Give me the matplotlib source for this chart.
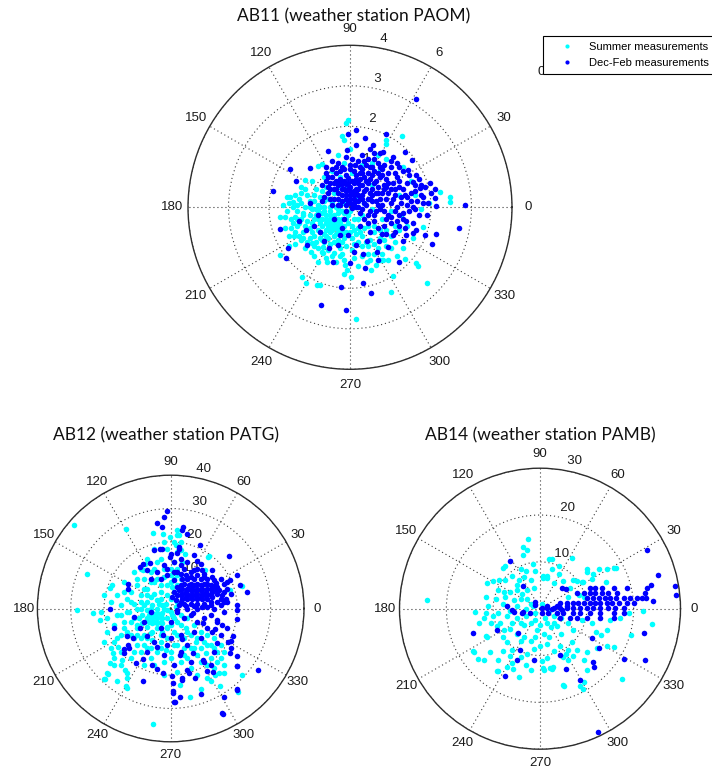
import numpy as np
import matplotlib
matplotlib.use("Agg")
import matplotlib.pyplot as plt
from matplotlib.lines import Line2D

# ---------------- data: wind vector components (east, north) ----------------
# AB11 (weather station PAOM), speed axis 0..4
ab11_summer = [
    (-0.06, 2.16), (-0.10, 2.07), (-0.20, 1.75), (1.28, 1.75), (0.90, 1.67), (-0.29, 1.29),
    (-0.14, 1.67), (0.00, 1.45), (0.70, 1.30), (0.90, 1.57), (-0.70, 1.07), (-0.78, 1.02),
    (1.31, 1.00), (1.50, 0.64), (2.21, 0.37), (2.48, 0.26), (2.48, 0.14), (-1.48, 0.26),
    (-1.41, 0.14), (-1.72, -0.23), (-1.10, 0.67), (-1.20, 0.50),
    (-1.39, -0.72), (-1.15, -0.76), (-1.00, -0.76), (-0.94, -0.88), (-0.97, -1.11), (-1.72, -1.19),
    (-0.66, -0.99), (-0.66, -1.13), (-0.56, -1.35), (-0.39, -1.13), (-0.25, -1.21), (-0.12, -1.42),
    (-0.14, -1.65), (0.02, -1.73), (-0.08, -1.54), (0.20, -1.46), (0.41, -1.34), (0.53, -1.56),
    (0.64, -1.42), (0.82, -1.31), (0.94, -1.30), (1.15, -1.21), (1.35, -1.28), (1.64, -1.38),
    (1.68, -1.46), (1.05, -1.69), (1.90, -1.87), (1.02, -2.10), (-1.19, -1.72), (-1.09, -1.87),
    (-0.82, -1.91), (-0.75, -1.92), (0.16, -2.75), (1.80, -0.48),
    (-0.50, -0.30), (-0.40, -0.30), (-0.60, -0.30), (-0.50, -0.20), (-0.50, -0.40), (-0.40, -0.20),
    (-0.60, -0.20), (-0.40, -0.40), (-0.60, -0.40), (-0.30, -0.30), (-0.70, -0.30), (-0.50, -0.10),
    (-0.50, -0.50), (-0.30, -0.15), (-0.70, -0.15), (-0.30, -0.45), (-0.70, -0.45), (-0.20, -0.30),
    (-0.80, -0.30), (-0.50, 0.00), (-0.50, -0.60), (-0.35, 0.00), (-0.65, 0.00), (-0.20, -0.10),
    (-0.80, -0.10), (-0.20, -0.55), (-0.80, -0.55), (-0.90, -0.30), (-0.10, -0.30), (-0.35, -0.65),
    (-0.65, -0.65),
    (-1.00, -0.20), (-1.10, 0.00), (-1.20, -0.30), (-1.00, -0.50), (-1.30, -0.10), (-1.40, 0.00),
    (-1.55, -0.10), (-1.60, -0.25), (-1.25, 0.20), (-1.05, 0.30), (-0.90, 0.15), (-0.75, 0.25),
    (-0.55, 0.20), (-0.40, 0.35), (-0.85, 0.45), (-0.60, 0.50), (-0.30, 0.50), (-0.15, 0.10),
    (0.00, -0.10), (0.10, -0.30), (0.20, -0.50), (0.00, -0.60), (-0.15, -0.75), (-0.40, -0.85),
    (-0.70, -0.80), (-0.90, -0.70), (-1.15, -0.60), (0.30, -0.20), (0.45, -0.45), (0.60, -0.60),
    (0.75, -0.75), (0.90, -0.55), (0.20, -0.85), (0.45, -0.95), (0.70, -1.00), (0.90, -0.95),
    (1.10, -0.85), (1.20, -0.55), (1.25, -0.20), (1.00, -0.10), (0.80, -0.30), (0.55, -0.05),
    (0.35, 0.10), (0.15, 0.25), (-0.05, 0.50), (-0.25, 0.75), (-0.45, 0.90), (-0.65, 0.75),
    (-0.95, 0.65), (0.05, 0.85), (-0.15, 1.10), (0.30, 1.05), (0.55, 1.10), (0.75, 0.95),
    (0.90, 1.20), (0.55, 0.55), (1.20, 0.30), (1.60, 0.30), (1.95, 0.10), (1.75, -0.05),
    (1.40, -0.45), (1.55, -0.75), (1.30, -1.00), (-0.25, -1.00), (0.05, -1.05), (-0.55, -1.05),
    (-0.80, -1.00), (-1.30, -0.45), (-1.45, -0.50),
    (-0.45, -0.25), (-0.55, -0.35), (-0.35, -0.35), (-0.45, -0.45), (-0.65, -0.10), (-0.75, -0.40),
    (-0.85, -0.20), (-0.95, -0.05), (-1.05, -0.35), (-1.15, -0.15), (-1.25, -0.40), (-1.35, -0.25),
    (-0.95, -0.60), (-0.75, -0.60), (-0.55, -0.75), (-0.30, -0.55), (-0.15, -0.45), (-0.05, -0.20),
    (0.05, -0.45), (0.15, -0.65), (0.30, -0.70), (0.35, -0.50), (0.50, -0.80), (0.60, -0.45),
    (0.75, -0.55), (0.30, -0.95), (0.10, -0.90), (-0.10, -0.95), (-0.30, -0.85), (-0.50, -0.90),
    (-0.70, -1.10), (-0.45, -1.20), (-0.20, -1.15), (0.60, -1.15), (0.80, -1.15), (1.00, -0.70),
    (1.10, -0.45), (-1.20, 0.10), (-1.00, 0.15), (-0.80, 0.05), (-0.65, 0.15), (-0.45, 0.10),
    (-0.25, 0.15), (-0.30, -0.05), (-1.45, -0.30), (-1.30, 0.05), (-0.15, -0.15), (0.20, -0.30),
    (-0.90, 0.30), (-0.70, 0.40), (-1.10, 0.45), (-1.50, 0.10), (-0.40, -0.70), (-0.60, -0.55),
    (-0.85, -0.85), (-1.05, -0.85),
    (-1.60, -0.50), (-1.50, -0.70), (-1.35, -0.60), (-1.20, -0.80), (-1.10, -1.00), (-0.90, -1.20),
    (-0.80, -1.35), (-0.60, -1.25), (-0.35, -1.35), (-0.15, -1.30), (0.10, -1.25), (0.30, -1.20),
    (0.45, -1.15), (-1.35, -0.90), (-1.50, -0.95), (-1.65, 0.05), (-1.55, 0.25), (-1.35, 0.30),
    (-1.20, 0.35), (-0.30, -0.80), (-0.10, -0.60), (0.05, -0.75), (0.25, -0.60), (0.40, -0.85),
    (-0.20, -0.85), (-0.65, -0.85), (-0.90, -0.95), (-1.25, -0.70), (-1.10, -0.45), (-1.40, -0.40),
    (-0.95, -0.40), (-0.75, -0.75), (-0.25, -0.40), (-0.05, -0.40), (0.10, -0.55), (-0.20, -0.65),
    (-0.45, -0.55), (-0.60, -0.70), (-0.35, -0.50), (-0.55, -0.45), (0.60, -0.90), (0.85, -0.80),
    (1.00, -1.00), (0.75, -1.30), (0.50, -1.30), (-1.00, 0.00), (-0.85, -0.05), (-1.15, -0.20),
    (-1.30, -0.30), (-0.75, 0.00),
]
ab11_decfeb = [
    (1.64, 2.67), (0.16, 1.90), (-0.06, 1.82), (0.38, 1.70), (0.89, 1.80), (0.57, 1.55),
    (0.15, 1.55), (-0.08, 1.41), (-0.55, 1.39), (0.82, 1.37), (1.07, 1.25), (1.35, 1.37),
    (1.52, 1.16), (1.15, 1.10), (1.43, 0.92), (-1.48, 0.94), (-1.34, 0.66), (-1.89, 0.41),
    (-0.98, 0.98), (1.64, 0.80), (1.97, 0.59), (1.72, 0.47), (2.09, 0.22), (2.13, 0.03),
    (2.83, 0.06), (1.80, 0.26), (1.93, 0.10), (2.69, -0.51),
    (-1.74, -0.54), (-1.27, -0.35), (-1.52, -1.01), (-1.57, -1.24), (-1.05, -0.93), (-1.08, -0.56),
    (-0.74, -0.61), (-0.64, -0.83), (-0.51, -1.01), (-0.29, -0.93), (-0.25, -0.68), (-0.06, -0.68),
    (0.15, -0.93), (0.10, -1.11), (0.00, -1.38), (-0.41, -1.34), (0.41, -0.84), (0.33, -1.16),
    (0.37, -1.50), (0.31, -1.87), (0.51, -2.11), (-0.23, -1.98), (-0.72, -2.42), (-0.11, -2.53),
    (0.66, -1.11), (0.72, -0.83), (0.78, -0.66), (0.94, -0.97), (1.07, -0.68), (1.21, -1.34),
    (1.31, -0.84), (1.39, -0.68), (1.56, -0.64), (1.64, -0.56), (1.86, -0.68), (2.03, -0.90),
    (2.13, -0.66), (1.15, -0.35), (1.39, -0.35), (0.45, -0.39), (0.70, -1.30),
    (1.20, 0.50), (1.35, 0.30), (1.50, 0.15), (1.60, 0.40), (1.25, 0.10), (1.45, -0.10),
    (1.70, -0.20), (1.30, -0.30), (1.55, -0.40), (1.10, -0.10), (1.90, -0.20), (2.00, 0.35),
    (1.85, 0.50), (1.15, 0.75), (1.30, 0.90), (1.00, 1.00), (0.95, 0.60), (1.10, 0.30),
    (1.70, 0.70), (1.55, 0.62), (2.10, 0.45),
    (0.00, 0.30), (0.10, 0.30), (-0.10, 0.30), (0.00, 0.40), (0.00, 0.20), (0.10, 0.40),
    (-0.10, 0.20), (0.10, 0.20), (-0.10, 0.40), (0.20, 0.30), (-0.20, 0.30), (0.00, 0.50),
    (0.00, 0.10), (0.20, 0.45), (-0.20, 0.15), (0.20, 0.15), (-0.20, 0.45), (0.30, 0.30),
    (-0.30, 0.35), (0.10, 0.60), (-0.10, 0.58), (0.30, 0.55), (-0.30, 0.55), (0.35, 0.10),
    (-0.25, 0.05), (0.05, -0.02), (0.15, 0.00), (0.25, 0.70), (-0.05, 0.72), (-0.25, 0.70),
    (0.40, 0.45), (-0.40, 0.20), (0.45, 0.20), (-0.40, 0.45),
    (0.50, 0.70), (0.60, 0.90), (0.70, 0.50), (0.80, 0.80), (0.55, 0.30), (0.65, 0.15),
    (0.80, 0.35), (0.90, 0.20), (0.50, 1.00), (0.30, 0.95), (0.10, 0.90), (-0.15, 0.95),
    (-0.35, 0.85), (0.20, 1.15), (0.45, 1.20), (0.70, 1.10), (0.85, 1.05), (-0.50, 0.60),
    (-0.55, 0.35), (-0.45, 0.05), (0.25, -0.15), (0.50, -0.10), (0.75, -0.05), (0.95, -0.20),
    (0.60, -0.35), (0.85, -0.45), (1.00, 0.45), (0.35, 0.75), (-0.30, 1.10), (-0.60, 0.85),
    (0.00, 1.05), (0.95, 0.85), (0.75, 0.20), (0.40, 0.05), (1.00, -0.40), (0.25, -0.45),
    (-0.15, -0.30), (0.60, 1.35), (0.30, 1.30), (-0.45, 1.15),
    (-0.40, -0.30), (-0.80, -0.20), (-1.00, 0.10), (-0.70, 0.15), (-0.20, -0.50), (0.50, -0.60),
    (-0.90, -0.45),
    (-0.45, 0.75), (-0.35, 0.45), (-0.25, 0.90), (-0.15, 0.65), (0.05, 0.65), (0.15, 0.80),
    (0.25, 0.55), (0.35, 0.40), (0.45, 0.60), (0.55, 0.45), (0.65, 0.65), (0.75, 0.75),
    (0.85, 0.55), (0.95, 0.35), (1.05, 0.20), (0.65, 0.35), (0.45, 0.85), (0.25, 1.00),
    (0.05, 1.20), (-0.10, 1.25), (0.40, 1.05), (0.60, 1.20), (0.80, 0.95), (1.20, 0.65),
    (1.30, 0.45), (1.40, 0.60), (1.15, 0.00), (1.30, -0.15), (1.00, -0.25), (0.85, -0.10),
    (0.70, 0.05), (0.55, 0.15), (0.45, -0.20), (0.30, -0.05), (0.15, 0.45), (-0.05, 0.15),
    (-0.30, 0.20), (-0.35, 0.65), (-0.55, 0.50), (-0.65, 0.25), (-0.70, 0.55), (-0.60, 1.00),
    (-0.20, 1.00), (0.50, 1.45), (0.75, 1.35), (1.00, 1.15), (1.20, 1.00), (1.45, 0.80),
    (1.60, 0.55), (1.75, 0.30), (1.55, 0.00), (1.40, 0.25), (1.65, 0.15), (0.90, -0.65),
    (1.20, -0.45), (0.70, -0.50), (0.35, -0.30), (0.60, -0.20), (0.05, 0.35), (0.15, 0.35),
    (-0.05, 0.45), (0.25, 0.20), (-0.15, 0.45), (0.08, 0.05), (0.20, 0.60), (-0.20, 0.58),
    (-0.50, 0.20), (-0.60, 0.65), (-0.45, 0.95), (-0.35, 1.00), (-0.10, 0.80), (0.00, 0.95),
    (0.12, 1.05), (0.35, 1.15), (0.55, 1.00), (0.70, 0.85), (0.90, 0.70), (1.05, 0.60),
    (1.10, 0.85), (0.85, 0.45), (0.60, 0.60), (0.40, 0.65), (0.30, 0.85), (0.15, 0.70),
    (-0.05, 0.60), (-0.25, 0.60), (-0.40, 0.60), (-0.50, 0.45), (-0.30, 0.05), (-0.10, 0.05),
    (0.10, 0.10), (0.30, 0.20), (0.50, 0.35), (0.70, 0.35), (0.90, 0.50), (1.10, 0.45),
    (1.25, 0.25), (1.40, 0.05), (1.60, -0.05), (1.80, 0.10), (1.50, 0.35), (1.75, 0.55),
    (1.20, -0.20), (1.00, 0.10), (0.80, 0.05), (0.65, -0.10), (0.90, -0.30), (1.10, -0.60),
    (1.35, -0.50), (0.50, 0.20), (0.20, 0.00), (-0.10, -0.10), (0.25, 0.85), (0.55, 0.80),
    (0.75, 1.00), (-0.55, 0.75),
]

# AB12 (weather station PATG), speed axis 0..40
ab12_summer = [
    (-29.0, 25.1), (-25.2, 10.4), (-28.2, -0.4), (-23.2, -1.3), (-21.2, -3.6), (-13.4, 23.9),
    (-17.6, 7.2), (-5.2, -34.6), (-19.6, -21.3), (-18.7, -19.8), (-17.0, -17.1), (-13.5, -23.3),
    (-13.7, -18.5), (-17.4, -13.5), (5.8, -26.6), (9.0, -24.3), (12.2, -21.8), (21.3, -20.0),
    (20.3, -25.1), (14.4, -19.3), (14.8, -23.3), (11.6, 15.7), (-5.2, 22.7), (-0.2, 21.5),
    (1.8, 23.7), (4.3, 16.5), (-2.2, 22.5), (2.6, 22.2), (11.3, 15.5), (10.3, 11.7),
    (21.3, 6.7), (17.8, 5.5), (-18.2, 6.3), (-8.2, 11.7), (-7.7, 13.5),
    (-19.0, -19.5), (-20.0, -21.3), (-16.2, -21.7), (-13.0, -19.5), (-13.2, -24.0), (-18.2, -16.5),
    (-15.7, -11.5), (-14.7, -15.5), (2.8, -23.0), (16.0, -19.5), (13.3, -20.0),
    (-4.0, -3.0), (-2.5, -3.0), (-5.5, -3.0), (-4.0, -1.5), (-4.0, -4.5), (-2.5, -1.5),
    (-5.5, -1.5), (-2.5, -4.5), (-5.5, -4.5), (-1.0, -3.0), (-7.0, -3.0), (-4.0, 0.0),
    (-4.0, -6.0), (-1.0, -0.5), (-7.0, -0.5), (-1.0, -5.5), (-7.0, -5.5), (-2.5, 1.0),
    (-5.5, 1.0), (-2.5, -7.0), (-5.5, -7.0), (-8.5, -2.0), (-8.5, -4.5), (0.5, -2.0),
    (-8.0, 1.0), (-4.0, 2.5),
    (-10.0, 0.0), (-11.0, -3.0), (-12.0, 2.0), (-13.0, -1.0), (-14.0, -4.0), (-10.0, -6.0),
    (-8.0, -8.0), (-11.0, -9.0), (-13.0, -7.0), (-15.0, 1.0), (-16.0, -2.0), (-9.0, 4.0),
    (-7.0, 6.0), (-5.0, 8.0), (-3.0, 5.0), (-1.0, 7.0), (-6.0, 3.5), (-10.0, 7.0),
    (-12.0, 5.0), (0.0, 3.0), (1.5, 0.5), (2.0, -4.0), (1.0, -7.0), (-1.0, -9.0),
    (-3.0, -10.0), (-5.5, -9.5), (-7.0, -12.0), (-9.0, -13.0), (-4.0, -13.0), (-1.5, -12.5),
    (1.0, -11.0), (3.0, -9.0), (4.5, -6.0), (6.0, -8.0), (7.5, -10.0), (9.0, -12.0),
    (10.5, -13.5), (12.0, -15.0), (8.0, -14.0), (6.0, -12.0), (4.0, -12.0), (5.0, -15.0),
    (3.0, -16.0), (11.0, -11.0), (13.0, -12.0), (14.0, -16.0), (2.0, -19.0), (-2.0, -16.0),
    (-6.0, -15.0), (-10.0, -11.0), (-12.0, -15.0), (-8.0, -17.0), (-16.0, -9.0), (-17.0, -5.0),
    (-19.0, -3.0), (-18.0, 2.0), (-14.0, 5.0), (0.0, 10.0), (-2.0, 12.0), (-4.0, 14.0),
    (1.0, 14.0), (2.0, 17.0), (3.0, 20.0), (-1.0, 18.0), (-6.0, 11.0), (-8.0, 9.0),
    (2.0, 12.0), (3.0, 9.0), (1.0, 5.0), (-2.0, 9.5), (7.0, -5.0), (9.0, -7.0),
    (11.0, -8.0), (13.0, -9.0), (15.0, -11.0), (16.0, -13.0), (5.0, -3.0), (3.0, -2.0),
    (-3.0, -2.0), (-5.0, -2.0), (-3.0, -4.0), (-5.0, -4.0), (-6.5, -2.0), (-6.5, -4.0),
    (-2.0, 0.0), (-6.0, 0.0), (-3.5, 1.5), (-7.0, 2.0), (-9.0, 0.0), (-9.5, -3.0),
    (-10.0, -5.0), (-12.0, -4.0), (-12.5, -1.0), (-11.0, 1.5), (-13.0, 3.0), (-15.0, -2.0),
    (-14.0, -6.0), (-12.0, -8.0), (-9.0, -9.0), (-7.0, -9.0), (-6.0, -7.5), (-3.0, -8.0),
    (-1.0, -6.0), (0.0, -5.0), (1.0, -3.0), (0.0, -1.0), (-1.5, 1.5), (-3.0, 3.0),
    (-5.0, 4.5), (-7.0, 4.0), (-9.0, 2.0), (-8.0, 6.0), (-10.0, 9.0), (-6.0, 8.0),
    (-3.0, 7.0), (-4.0, 9.0), (-5.0, 12.0), (-3.0, 15.0), (0.0, 12.0), (1.0, 9.0),
    (2.0, 7.0), (0.0, 8.0), (-1.0, 4.0), (2.0, 2.0), (3.0, -5.0), (5.0, -7.0),
    (4.0, -9.0), (2.0, -8.0), (2.0, -11.0), (0.0, -13.0), (-3.0, -12.0), (-6.0, -12.0),
    (-8.0, -11.0), (-10.0, -8.0), (-15.0, -8.0), (-17.0, -10.0), (-15.0, -13.0), (-11.0, -13.0),
    (-5.0, -17.0), (-2.0, -20.0), (0.0, -15.0), (4.0, -14.0), (7.0, -12.0), (8.0, -9.0),
    (10.0, -10.0), (12.0, -11.0), (14.0, -13.0), (15.0, -15.0), (16.0, -17.0), (13.0, -18.0),
    (11.0, -17.0), (9.0, -16.0), (6.0, -18.0), (8.0, -20.0), (11.0, -21.0), (-13.0, -21.0),
    (-15.0, -17.0), (-17.0, -15.0), (-18.0, -12.0), (-20.0, -10.0), (-19.0, -7.0), (-21.0, -1.0),
    (-20.0, 4.0), (-16.0, 4.0), (-14.0, 8.0), (-11.0, 11.0), (-9.0, 12.0), (-7.0, 15.0),
    (-5.0, 18.0), (-2.0, 20.0), (1.0, 20.0), (2.0, 22.0), (1.5, 19.0), (3.0, 17.5),
    (3.5, 14.0), (2.0, 10.0), (0.5, 6.5),
]
ab12_decfeb = [
    (-1.0, 29.2), (-2.0, 27.5), (3.6, 24.5), (3.3, 23.5), (8.8, 19.2), (17.4, 15.7),
    (19.8, 10.2), (22.8, 4.9), (20.9, 7.2), (-18.2, -0.3), (-16.9, -6.0), (-12.8, 7.4),
    (-8.2, 13.4), (-3.2, 17.9), (26.3, -18.5), (19.9, -17.3), (20.0, -24.1), (15.4, -31.5),
    (16.1, -26.6), (9.0, -25.7), (2.8, -26.6), (1.1, -28.1), (0.6, -24.8), (0.8, -22.3),
    (3.3, -20.8), (5.5, -19.3), (7.4, -20.8), (12.8, -19.1), (20.0, -14.3), (19.8, -3.3),
    (20.0, 1.2), (18.0, -9.8), (13.3, -6.3), (-13.2, -8.3), (-11.2, -8.8), (-12.4, -11.8),
    (-14.0, -12.3), (-8.2, -15.3), (-4.2, -18.1), (0.3, -20.3),
    (-4.2, 25.8), (-2.7, 24.5), (4.8, 22.5), (-5.0, 17.5), (-2.5, 17.8), (-0.2, 15.5),
    (1.8, 16.7), (2.5, 18.5), (7.8, 14.2), (12.3, 11.7), (17.8, 8.5), (16.8, 8.0),
    (-9.2, 12.5), (-7.2, 11.5), (-6.2, 13.7), (-1.2, 12.0), (-12.7, 6.0),
    (-10.9, -2.5), (-9.2, -6.0), (-7.2, -8.3), (-12.7, -11.0), (-13.9, -13.5), (-10.4, -16.3),
    (-5.7, -17.0), (-2.2, -19.3), (-8.4, -21.7), (3.3, -21.5), (0.8, -25.3), (1.4, -28.0),
    (4.8, -18.5), (10.8, -18.7), (17.8, -13.5), (20.0, -17.3), (19.8, -24.5), (15.6, -31.7),
    (9.8, -15.5), (6.8, -13.5), (2.8, -14.0), (-1.2, -11.0), (-4.2, -11.5), (-2.2, -8.0),
    (3.3, -9.3), (12.3, -7.0), (13.8, -10.5), (15.3, -5.0), (17.3, -10.0), (18.8, -8.3),
    (13.8, -3.5), (9.8, -4.5), (6.8, -1.5), (1.8, -0.5), (19.8, -0.5),
    (5.0, 4.5), (6.5, 4.5), (8.0, 4.5), (3.5, 4.5), (9.5, 4.5), (5.0, 6.0),
    (6.5, 6.0), (8.0, 6.0), (3.5, 6.0), (9.5, 6.0), (5.0, 3.0), (6.5, 3.0),
    (8.0, 3.0), (3.5, 3.0), (9.5, 3.0), (11.0, 4.5), (11.0, 6.0), (11.0, 3.0),
    (12.5, 5.0), (12.5, 3.5), (14.0, 4.5), (2.0, 4.0), (2.5, 5.5), (4.0, 7.5),
    (6.0, 7.5), (8.0, 7.5), (10.0, 7.5), (12.0, 7.0), (14.0, 6.5), (4.0, 1.5),
    (6.0, 1.5), (8.0, 1.5), (10.0, 1.5), (12.0, 2.0), (15.0, 3.0), (16.0, 5.0),
    (3.0, 2.0), (1.5, 2.5), (7.0, 9.0), (9.0, 9.0), (5.0, 9.0), (11.0, 9.0),
    (13.0, 8.5), (16.0, 7.5), (15.0, 1.0), (5.0, 0.0), (8.0, 0.0), (11.0, 0.5),
    (13.0, 0.0), (17.0, 2.0),
    (3.0, 4.0), (4.5, 5.0), (6.0, 5.5), (7.5, 5.2), (9.0, 5.5), (10.5, 5.0),
    (12.0, 4.0), (13.5, 5.5), (4.5, 3.5), (6.0, 3.8), (7.5, 3.7), (9.0, 3.5),
    (10.5, 3.8), (12.0, 5.8), (13.0, 6.8), (14.5, 5.5), (15.5, 4.0), (16.5, 3.0),
    (17.0, 6.0), (18.0, 4.5), (5.5, 7.0), (7.0, 7.0), (9.0, 7.0), (11.0, 7.5),
    (13.5, 7.8), (3.0, 7.0), (2.0, 6.5), (1.0, 5.0), (0.5, 3.5), (2.5, 1.0),
    (4.5, 0.8), (7.0, 0.8), (9.5, 0.5), (12.0, 1.0), (14.0, 2.0), (16.0, 2.0),
    (3.5, 9.0), (6.0, 9.5), (8.0, 10.0), (10.0, 9.5), (12.5, 9.5), (15.0, 9.0),
    (1.0, 11.0), (3.0, 10.5), (4.5, 10.0), (7.0, 11.5), (9.5, 11.5),
    (2.0, 11.0), (4.0, 12.0), (6.0, 11.0), (8.0, 12.0), (1.0, 14.0), (3.0, 15.0),
    (0.0, 16.5), (-2.0, 13.0), (-4.0, 11.0), (-1.0, 10.0), (5.0, 14.0), (9.0, 13.5),
    (7.0, 16.0), (2.5, 18.0), (-3.0, 9.0), (-6.0, 9.0), (10.0, 10.5), (3.0, 13.0),
    (1.0, 8.5),
    (-6.0, -1.0), (-8.0, -4.0), (-3.0, -6.0), (0.0, -4.0), (2.0, -1.0), (4.0, -3.0),
    (6.0, -2.0), (8.0, -4.0), (10.0, -3.0), (12.0, -2.0), (14.0, -4.0), (16.0, -1.0),
    (11.0, -6.0), (7.0, -7.0), (3.0, -8.0), (0.0, -9.0), (-5.0, -10.0), (-7.0, -13.0),
    (5.0, -11.0), (9.0, -9.0), (13.0, -13.0), (17.0, -6.0), (15.0, -8.0), (10.0, -16.0),
    (3.0, -13.0), (-2.0, -14.0), (6.0, -16.0), (12.0, -17.0), (18.0, -12.0), (1.0, -17.0),
]

# AB14 (weather station PAMB), speed axis 0..30
ab14_summer = [
    (-24.1, 1.9), (-2.5, 14.8), (-3.7, 13.1), (-3.7, 11.4), (-7.5, 9.2), (-1.4, 9.6),
    (1.9, 10.7), (4.0, 9.1), (0.7, 6.9), (1.4, 6.9), (4.1, 7.5), (7.1, 6.2),
    (10.0, 8.5), (11.4, 7.5), (14.3, 8.5), (16.3, 8.7), (-2.9, 8.0), (-13.9, -0.6),
    (-11.6, -0.9), (-11.1, 0.5), (-14.3, -9.0), (-10.6, -9.3), (-11.6, -5.9), (-9.1, -13.3),
    (-7.1, -12.4), (-5.9, -11.6), (0.6, -12.7), (2.1, -12.7), (2.7, -12.5), (4.9, -16.3),
    (8.6, -16.6), (17.6, -15.1), (23.9, -3.2), (22.0, -0.4), (14.3, -7.9), (12.1, -8.4),
    (5.9, -8.8), (4.9, -10.4), (5.9, -10.9), (1.4, -10.6),
    (-2.7, 12.6), (-7.9, 8.7), (2.6, 10.7), (6.9, 10.9), (10.1, 7.9), (12.6, 8.4),
    (8.9, 5.7), (15.7, 8.6), (-11.3, 5.5), (-11.6, 2.5),
    (-14.1, -9.3), (-13.3, -10.7), (-11.3, -6.1), (-8.9, -13.4), (-5.7, -12.9), (-4.5, -14.6),
    (0.5, -11.1), (0.9, -13.1), (2.6, -12.9), (5.1, -16.4), (9.3, -15.7), (9.1, -17.1),
    (9.3, -11.0), (10.1, -9.3), (13.0, -5.7), (4.3, -7.9),
    (-9.1, -3.6), (-7.7, -4.6), (-6.3, -4.3), (-4.9, -5.4), (-3.4, -6.1), (-2.0, -6.8),
    (-0.6, -4.6), (0.9, -5.4), (2.3, -3.9), (3.7, -3.6), (4.4, -5.4), (1.6, -7.5),
    (-1.3, -8.6), (-2.7, -9.6), (-4.1, -10.4), (-5.9, -8.9), (-7.0, -7.1), (5.5, -9.6),
    (6.9, -7.1), (8.0, -8.9), (15.9, -8.2), (14.4, -4.6), (19.4, -5.7),
    (-7.7, 3.6), (-6.3, 3.6), (-4.9, 3.9), (-3.8, 3.2), (-2.7, 3.9), (-7.4, 2.5),
    (-5.6, 1.8), (-4.1, 2.1), (-2.7, 2.1), (-2.0, 1.1), (-8.8, 6.2), (-7.4, 6.1),
    (-4.5, 6.1), (-3.4, 6.8), (-2.0, 6.1), (-1.3, 4.5), (0.7, 6.6), (1.6, 6.6),
    (8.4, 2.9), (9.4, 2.5), (5.9, 2.5), (8.0, 5.9), (9.1, 5.7), (11.2, 6.4),
    (14.1, 5.7),
    (-1.0, -1.0), (-3.0, -1.5), (-5.0, -2.0), (-7.0, -1.5), (1.0, -2.0), (3.0, -1.5),
    (-2.0, -3.0), (0.0, -3.5), (-4.0, -3.0), (2.0, -0.5), (-9.0, -1.0), (-10.5, -3.0),
    (-8.0, -6.0), (6.0, -3.0), (7.0, -4.5), (9.0, -2.5), (11.0, -3.0), (12.0, -5.0),
    (17.0, -2.0), (19.0, -1.0), (15.0, -2.5),
    (-5.0, 0.5), (-3.0, 0.0), (-1.5, 0.5), (0.5, 1.0), (-6.5, -0.5), (-8.0, 1.0),
    (-9.5, 2.0), (-10.0, -1.5), (-12.0, -2.0), (-8.5, -3.0), (-6.0, -3.0), (-3.5, -3.5),
    (-1.0, -2.5), (1.5, -3.0), (3.0, -3.0), (4.5, -2.0), (-5.0, 5.0), (-6.0, 7.0),
    (-9.0, 4.0), (-10.0, 6.0), (-4.0, 8.5), (-1.0, 8.0), (2.5, 8.5), (3.0, 5.5),
    (5.0, 6.0), (6.5, 4.5), (-13.0, -3.0), (-12.0, -11.0), (-9.0, -11.0), (-6.5, -10.0),
    (-3.0, -12.0), (-2.0, -13.0), (0.0, -8.0), (3.0, -9.0), (2.0, -6.0), (-1.0, -6.0),
    (7.0, -10.0), (10.0, -13.0), (-4.0, -7.0), (-8.0, -9.0),
]
ab14_decfeb = [
    (22.9, 12.6), (25.1, 7.1), (28.9, 4.8), (29.0, 3.0), (23.6, 5.1), (22.9, 4.4),
    (22.5, 3.4), (24.1, 1.6), (22.3, -5.2), (22.5, -10.9), (18.0, -10.8), (11.4, -11.4),
    (11.6, -12.5), (12.5, -8.3), (11.2, -6.3), (12.4, -26.3), (8.6, -15.2), (5.6, -12.9),
    (4.3, -9.9), (-7.4, -14.4), (-5.0, -10.9), (-4.3, -8.9), (-1.3, -10.9), (-4.6, -5.2),
    (-9.1, -4.6), (-14.3, -5.2), (-6.4, 10.1), (-3.6, 4.8), (-5.9, -0.2), (-3.9, -0.9),
    (10.7, 4.4), (11.8, 4.4), (13.2, 4.4), (15.7, 4.4), (18.6, 4.4),
    (7.9, 3.4), (9.4, 3.4), (10.7, 3.4), (11.8, 3.4), (13.2, 3.4), (14.6, 3.4), (16.4, 3.4),
    (10.0, 2.3), (11.4, 2.3), (12.7, 2.3), (13.9, 2.3), (15.0, 2.3), (16.2, 2.3),
    (17.9, 2.3), (19.3, 2.3), (20.7, 2.3), (21.8, 2.3), (22.7, 2.3),
    (4.3, 1.2), (5.7, 1.2), (7.1, 1.2), (8.2, 1.2), (9.4, 1.2), (10.7, 1.2), (11.8, 1.2),
    (12.9, 1.2), (14.3, 1.2), (15.4, 1.2), (16.8, 1.2), (18.6, 1.2), (20.0, 1.2),
    (1.4, 0.1), (2.9, 0.1), (4.3, 0.1), (5.7, 0.1), (7.1, 0.1), (8.6, 0.1),
    (10.0, 0.1), (11.4, 0.1), (12.9, 0.1), (14.6, 0.1), (16.1, 0.1), (17.9, 0.1),
    (0.4, -0.9), (1.8, -0.9), (3.6, -0.9), (5.0, -0.9), (7.1, -0.9), (8.6, -0.9),
    (10.7, -0.9), (12.9, -0.9), (15.7, -0.9), (17.9, -0.9),
    (4.3, -2.0), (6.4, -2.0), (7.9, -2.0), (10.0, -2.0), (12.9, -2.0), (15.7, -2.0),
    (0.4, 0.1), (1.4, 0.6), (2.5, 0.0), (3.6, 0.5), (4.6, -0.2), (5.7, 0.5),
    (-5.5, -0.6), (-3.6, -0.6), (-2.1, -0.9), (-1.0, 0.7), (-7.0, 0.5),
    (4.6, 4.5), (5.5, 4.1), (-1.1, 1.4),
]

ab11_rings = [1, 2, 3, 4]
ab12_rings = [10, 20, 30, 40]
ab14_rings = [10, 20, 30]
angle_values = [0, 30, 60, 90, 120, 150, 180, 210, 240, 270, 300, 330]
ab11_angle_labels = ["0", "30", "6", "90", "120", "150", "180", "210", "240", "270", "300", "330"]
std_angle_labels = [str(a) for a in angle_values]
series_labels = ["Summer measurements", "Dec-Feb measurements"]
series_colors = ["#00ffff", "#0000ff"]

# ---------------- figure ----------------
W, H = 712, 767
fig = plt.figure(figsize=(W / 100, H / 100), dpi=100)
TICKFONT = dict(family=["Liberation Sans", "DejaVu Sans"], size=9.5)
MARKER = "o"
MS = 4.0


def to_polar(pts):
    a = np.asarray(pts, dtype=float)
    return np.arctan2(a[:, 1], a[:, 0]), np.hypot(a[:, 0], a[:, 1])


def panel(cx, cy, R, rings, angle_labels, title, tx, ty, summer, decfeb):
    rmax = rings[-1]
    rinc = rings[1] - rings[0]
    ax = fig.add_axes([(cx - R) / W, (H - cy - R) / H, 2 * R / W, 2 * R / H],
                      projection="polar")
    ax.set_ylim(0, rmax)
    ax.set_yticks(rings)
    ax.set_yticklabels([])
    ax.set_xticks(np.deg2rad(angle_values))
    ax.set_xticklabels([])
    ax.tick_params(length=0)
    ax.set_axisbelow(True)
    ax.grid(True, color="#3a3a3a", linestyle=(0, (1, 2.6)), linewidth=0.8)
    ax.spines["polar"].set_color("#2e2e2e")
    ax.spines["polar"].set_linewidth(1.0)
    for a, lab in zip(angle_values, angle_labels):
        ax.text(np.deg2rad(a), 1.1 * rmax, lab, ha="center", va="center",
                fontdict=TICKFONT, color="#1a1a1a", clip_on=False)
    for r in rings:
        ax.text(np.deg2rad(82), r + rinc / 20, "  " + str(r), ha="left", va="bottom",
                fontdict=TICKFONT, color="#1a1a1a", zorder=1)
    th, rr = to_polar(summer)
    ax.plot(th, rr, linestyle="none", marker=MARKER, ms=MS, mew=0,
            color=series_colors[0], zorder=2)
    th, rr = to_polar(decfeb)
    ax.plot(th, rr, linestyle="none", marker=MARKER, ms=MS, mew=0,
            color=series_colors[1], zorder=2.1)
    fig.text(tx / W, 1 - ty / H, title, ha="center", va="center",
             family=["Lato", "DejaVu Sans"], size=12.5, color="#111111")
    return ax


panel(350, 207.3, 162, ab11_rings, ab11_angle_labels,
      "AB11 (weather station PAOM)", 354, 16, ab11_summer, ab11_decfeb)
panel(170.7, 608.5, 133.3, ab12_rings, std_angle_labels,
      "AB12 (weather station PATG)", 166, 435, ab12_summer, ab12_decfeb)
panel(540, 608.7, 140.5, ab14_rings, std_angle_labels,
      "AB14 (weather station PAMB)", 540, 435, ab14_summer, ab14_decfeb)

fig.text(541 / W, 1 - 72 / H, "0", ha="center", va="center", fontdict=TICKFONT,
         color="#1a1a1a")
handles = [Line2D([], [], linestyle="none", marker="o", ms=3.0, mew=0, color=c)
           for c in series_colors]
leg = fig.legend(handles, series_labels, loc="upper left",
                 bbox_to_anchor=(543 / W, 1 - 36 / H), borderaxespad=0,
                 frameon=True, fancybox=False, framealpha=1, edgecolor="black",
                 borderpad=0.55, handlelength=3.3, handletextpad=0.3, labelspacing=0.55,
                 prop=dict(family=["Liberation Sans", "DejaVu Sans"], size=8.0))
leg.get_frame().set_linewidth(0.8)
leg.set_zorder(10)

fig.savefig("out.png", dpi=100, facecolor="white")
